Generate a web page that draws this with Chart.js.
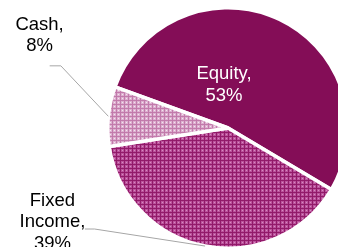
<!DOCTYPE html>
<html><head><meta charset="utf-8">
<script src="https://cdn.jsdelivr.net/npm/chart.js@4/dist/chart.umd.min.js"></script>
<style>
html,body{margin:0;padding:0;overflow:hidden;background:#fff;width:338px;height:247px;}
#wrap{position:absolute;left:0;top:0;width:360px;height:262px;}
</style></head>
<body>
<div id="wrap"><canvas id="c" width="360" height="262"></canvas></div>
<script>
const categories = ["Equity", "Fixed Income", "Cash"];
const values = [53, 39, 8];
const labelLines = [["Equity,", "53%"], ["Fixed", "Income,", "39%"], ["Cash,", "8%"]];

function makePattern(base, line, dot, size) {
  const c = document.createElement('canvas');
  c.width = size; c.height = size;
  const x = c.getContext('2d');
  x.fillStyle = base; x.fillRect(0, 0, size, size);
  x.fillStyle = line; x.fillRect(0, 0, size, 1); x.fillRect(0, 0, 1, size);
  x.fillStyle = dot; x.fillRect(2, 2, 1, 1);
  return x.createPattern(c, 'repeat');
}
const ctx0 = document.getElementById('c').getContext('2d');
const fiPattern = makePattern('#bb529c', '#921a69', '#d88cc0', 4);
const cashPattern = makePattern('#ddb0d0', '#c27aab', '#f4e4ee', 4);

// label placement in units of radius relative to pie centre
const labelCfg = [
  {inside: true, dx: -0.033, dy: -0.405, color: '#ffffff'},
  {inside: false, dx: -1.46, dy: 0.645, elbow: [-1.11, 0.84], start: [-1.19, 0.84], color: '#000000'},
  {inside: false, dx: -1.567, dy: -0.815, elbow: [-1.39, -0.517], start: [-1.483, -0.517], color: '#000000'}
];

const labelPlugin = {
  id: 'pieLabels',
  afterDatasetsDraw(chart) {
    const ctx = chart.ctx;
    const meta = chart.getDatasetMeta(0);
    ctx.save();
    ctx.font = '18.5px "Liberation Sans", Arial, sans-serif';
    ctx.textAlign = 'center';
    ctx.textBaseline = 'alphabetic';
    meta.data.forEach((arc, i) => {
      const p = arc.getProps(['x', 'y', 'startAngle', 'endAngle', 'outerRadius'], true);
      const R = p.outerRadius;
      const cfg = labelCfg[i];
      if (!cfg.inside) {
        const mid = (p.startAngle + p.endAngle) / 2;
        const ex = p.x + Math.cos(mid) * R, ey = p.y + Math.sin(mid) * R;
        ctx.strokeStyle = '#a6a6a6';
        ctx.lineWidth = 1;
        ctx.beginPath();
        ctx.moveTo(p.x + cfg.start[0] * R, p.y + cfg.start[1] * R);
        ctx.lineTo(p.x + cfg.elbow[0] * R, p.y + cfg.elbow[1] * R);
        ctx.lineTo(ex, ey);
        ctx.stroke();
      }
      ctx.fillStyle = cfg.color;
      const lines = labelLines[i];
      const lh = 21.5;
      const tx = p.x + cfg.dx * R, ty = p.y + cfg.dy * R;
      lines.forEach((t, k) => ctx.fillText(t, tx, ty + k * lh));
    });
    ctx.restore();
  }
};

new Chart(ctx0, {
  type: 'pie',
  data: {
    labels: categories,
    datasets: [{
      data: values,
      backgroundColor: ['#840d57', fiPattern, cashPattern],
      borderColor: '#ffffff',
      borderWidth: 3.5,
      hoverOffset: 0
    }]
  },
  options: {
    responsive: false,
    animation: false,
    rotation: 290,
    layout: {padding: {left: 106, top: 6, right: 10, bottom: 12}},
    plugins: {legend: {display: false}, tooltip: {enabled: false}}
  },
  plugins: [labelPlugin]
});
</script>
</body></html>
